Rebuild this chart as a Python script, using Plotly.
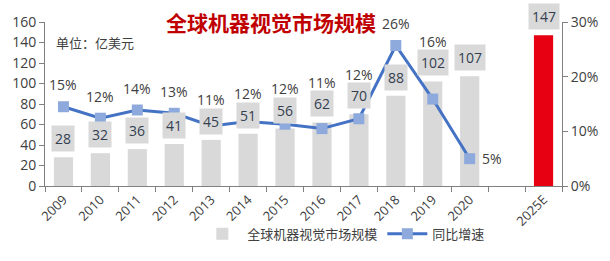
import plotly.graph_objects as go

categories = ["2009", "2010", "2011", "2012", "2013", "2014", "2015", "2016",
              "2017", "2018", "2019", "2020", " ", "2025E"]
market_size = [28, 32, 36, 41, 45, 51, 56, 62, 70, 88, 102, 107, None, 147]
growth = [0.145, 0.124, 0.139, 0.133, 0.110, 0.118, 0.113, 0.105, 0.123,
          0.257, 0.159, 0.050]
growth_labels = ["15%", "12%", "14%", "13%", "11%", "12%", "12%", "11%", "12%",
                 "26%", "16%", "5%"]

FONT = "Open Sans, Noto Sans CJK SC, sans-serif"
CJK = "Noto Sans CJK SC, sans-serif"
TXT = "#404040"

bar_colors = ["#D9D9D9"] * (len(categories) - 1) + ["#E60012"]

fig = go.Figure()
fig.add_trace(go.Bar(
    x=categories, y=market_size, name="全球机器视觉市场规模",
    marker=dict(color=bar_colors, line=dict(width=0)),
    yaxis="y",
))
fig.add_trace(go.Scatter(
    x=categories[:len(growth)], y=growth, name="同比增速",
    mode="lines+markers",
    line=dict(color="#4472C4", width=3),
    marker=dict(symbol="square", size=11, color="#8EA9DB", line=dict(width=0)),
    yaxis="y2",
))

annotations = []
# bar value labels in gray boxes (x given as category index)
for i, v in enumerate(market_size):
    if v is None:
        continue
    annotations.append(dict(
        x=i, y=v, xref="x", yref="y", text=str(v), showarrow=False,
        yanchor="bottom", yshift=5, bgcolor="#D9D9D9", borderpad=3,
        font=dict(family=FONT, size=14, color="#333F50"),
    ))
# growth labels
for i, (g, t) in enumerate(zip(growth, growth_labels)):
    v = market_size[i]
    if i == len(growth) - 1:
        annotations.append(dict(
            x=i, y=g, xref="x", yref="y2", text=t, showarrow=False,
            xanchor="left", xshift=10,
            font=dict(family=FONT, size=14, color=TXT),
        ))
        continue
    bar_pct = v / 160 * 0.30
    ly = max(g + 0.04, bar_pct + 0.073)
    annotations.append(dict(
        x=i, y=ly, xref="x", yref="y2", text=t, showarrow=False,
        yanchor="middle",
        font=dict(family=FONT, size=14, color=TXT),
    ))

annotations.append(dict(
    x=0.438, y=1.0, xref="paper", yref="paper", text="<b>全球机器视觉市场规模</b>",
    showarrow=False, xanchor="center", yanchor="middle",
    font=dict(family=CJK, size=21, color="#C00000"),
))
annotations.append(dict(
    x=0.018, y=0.875, xref="paper", yref="paper", text="单位：亿美元",
    showarrow=False, xanchor="left", yanchor="middle",
    font=dict(family=CJK, size=13, color=TXT),
))

fig.update_layout(
    width=610, height=261,
    margin=dict(l=40, r=34, t=20, b=57),
    paper_bgcolor="white", plot_bgcolor="white",
    bargap=0.48,
    showlegend=True,
    legend=dict(orientation="h", x=0.578, xanchor="center", y=-0.2, yanchor="top",
                font=dict(family=CJK, size=13, color=TXT), itemwidth=40,
                bgcolor="rgba(0,0,0,0)"),
    xaxis=dict(
        type="category", categoryorder="array", categoryarray=categories,
        range=[-0.5, len(categories) - 0.5],
        showline=True, linecolor="#808080", linewidth=1,
        ticks="outside", tickson="boundaries", ticklen=5, tickcolor="#808080",
        tickangle=-45, tickfont=dict(family=FONT, size=13, color=TXT),
        showgrid=False,
    ),
    yaxis=dict(
        range=[0, 160], dtick=20, showgrid=False,
        showline=True, linecolor="#808080", linewidth=1,
        ticks="outside", ticklen=5, tickcolor="#808080",
        tickfont=dict(family=FONT, size=14, color=TXT), zeroline=False,
    ),
    yaxis2=dict(
        range=[0, 0.30], dtick=0.10, tickformat=".0%", overlaying="y", side="right",
        showgrid=False, showline=True, linecolor="#808080", linewidth=1,
        ticks="outside", ticklen=5, tickcolor="#808080",
        tickfont=dict(family=FONT, size=14, color=TXT), zeroline=False,
    ),
    annotations=annotations,
)

fig.write_html("out.html")
